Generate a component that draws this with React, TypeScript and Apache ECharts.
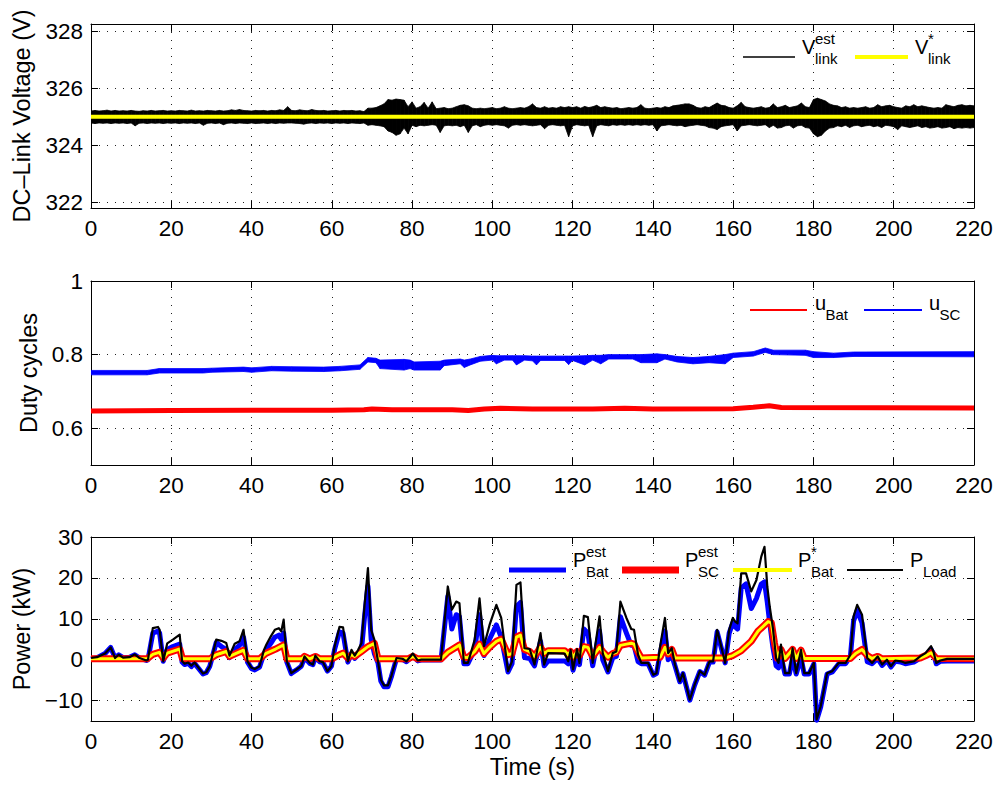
import React, { useEffect, useRef } from "react";
import * as echarts from "echarts";

const FONT = "'Liberation Sans', Arial, Helvetica, sans-serif";

// ---------- DC-link voltage (V) ----------
const vTicks = [322, 324, 326, 328];
const vRefValue = 325;
const vTime: number[] = [];
for (let s = 0; s <= 220; s++) vTime.push(s);
const vEstUpper = [
  325.20, 325.22, 325.20, 325.21, 325.23, 325.20, 325.22, 325.20, 325.21, 325.20,
  325.22, 325.20, 325.19, 325.21, 325.20, 325.22, 325.20, 325.21, 325.22, 325.20,
  325.21, 325.20, 325.22, 325.21, 325.20, 325.23, 325.20, 325.21, 325.20, 325.22,
  325.21, 325.20, 325.22, 325.20, 325.21, 325.24, 325.22, 325.25, 325.22, 325.21,
  325.20, 325.22, 325.21, 325.22, 325.20, 325.22, 325.21, 325.24, 325.22, 325.35,
  325.22, 325.21, 325.24, 325.22, 325.21, 325.25, 325.22, 325.21, 325.22, 325.20,
  325.21, 325.22, 325.20, 325.22, 325.21, 325.22, 325.20, 325.21, 325.18, 325.30,
  325.30, 325.32, 325.38, 325.45, 325.60, 325.58, 325.62, 325.60, 325.58, 325.35,
  325.52, 325.30, 325.35, 325.50, 325.30, 325.52, 325.28, 325.30, 325.32, 325.28,
  325.30, 325.35, 325.40, 325.42, 325.38, 325.30, 325.28, 325.30, 325.28, 325.30,
  325.32, 325.28, 325.30, 325.35, 325.30, 325.28, 325.30, 325.32, 325.30, 325.35,
  325.45, 325.32, 325.30, 325.35, 325.30, 325.32, 325.30, 325.35, 325.32, 325.35,
  325.32, 325.35, 325.30, 325.36, 325.32, 325.35, 325.40, 325.32, 325.35, 325.32,
  325.30, 325.32, 325.28, 325.30, 325.32, 325.30, 325.32, 325.42, 325.30, 325.28,
  325.30, 325.32, 325.30, 325.35, 325.32, 325.38, 325.40, 325.42, 325.45, 325.45,
  325.40, 325.32, 325.30, 325.35, 325.32, 325.40, 325.48, 325.40, 325.38, 325.32,
  325.30, 325.38, 325.50, 325.35, 325.32, 325.30, 325.32, 325.35, 325.30, 325.32,
  325.45, 325.32, 325.35, 325.40, 325.32, 325.35, 325.38, 325.48, 325.35, 325.32,
  325.60, 325.65, 325.60, 325.55, 325.45, 325.40, 325.38, 325.32, 325.35, 325.30,
  325.32, 325.30, 325.32, 325.35, 325.30, 325.32, 325.42, 325.35, 325.38, 325.40,
  325.35, 325.32, 325.30, 325.38, 325.35, 325.42, 325.35, 325.38, 325.35, 325.32,
  325.30, 325.32, 325.30, 325.42, 325.38, 325.35, 325.40, 325.42, 325.38, 325.40,
  325.38,
];
const vEstLower = [
  324.78, 324.76, 324.78, 324.77, 324.78, 324.76, 324.78, 324.77, 324.78, 324.76,
  324.78, 324.68, 324.77, 324.78, 324.76, 324.78, 324.77, 324.78, 324.76, 324.78,
  324.77, 324.78, 324.76, 324.78, 324.77, 324.78, 324.76, 324.78, 324.70, 324.77,
  324.78, 324.76, 324.78, 324.72, 324.77, 324.78, 324.76, 324.78, 324.77, 324.76,
  324.78, 324.76, 324.77, 324.78, 324.76, 324.78, 324.76, 324.78, 324.77, 324.78,
  324.78, 324.77, 324.76, 324.74, 324.77, 324.78, 324.76, 324.78, 324.77, 324.78,
  324.76, 324.78, 324.77, 324.78, 324.76, 324.78, 324.77, 324.76, 324.78, 324.70,
  324.72, 324.70, 324.68, 324.65, 324.50, 324.45, 324.35, 324.40, 324.60, 324.40,
  324.70, 324.65, 324.70, 324.68, 324.70, 324.72, 324.70, 324.45, 324.68, 324.70,
  324.68, 324.70, 324.65, 324.70, 324.45, 324.68, 324.72, 324.65, 324.70, 324.72,
  324.70, 324.72, 324.70, 324.68, 324.60, 324.70, 324.72, 324.70, 324.72, 324.70,
  324.68, 324.70, 324.72, 324.58, 324.70, 324.72, 324.70, 324.68, 324.70, 324.30,
  324.68, 324.72, 324.70, 324.68, 324.70, 324.30, 324.68, 324.72, 324.70, 324.68,
  324.72, 324.70, 324.72, 324.70, 324.72, 324.70, 324.72, 324.70, 324.72, 324.70,
  324.72, 324.50, 324.68, 324.70, 324.72, 324.70, 324.68, 324.70, 324.65, 324.68,
  324.70, 324.72, 324.70, 324.68, 324.62, 324.60, 324.55, 324.65, 324.68, 324.70,
  324.72, 324.50, 324.68, 324.70, 324.72, 324.70, 324.68, 324.70, 324.72, 324.62,
  324.70, 324.60, 324.62, 324.68, 324.70, 324.60, 324.68, 324.70, 324.62, 324.60,
  324.40, 324.30, 324.35, 324.50, 324.60, 324.62, 324.68, 324.65, 324.70, 324.62,
  324.68, 324.70, 324.65, 324.68, 324.70, 324.65, 324.68, 324.62, 324.70, 324.68,
  324.65, 324.55, 324.68, 324.65, 324.62, 324.65, 324.68, 324.62, 324.65, 324.60,
  324.62, 324.65, 324.60, 324.62, 324.65, 324.58, 324.62, 324.60, 324.62, 324.60,
  324.62,
];

// ---------- duty cycles ----------
const dutyTicks = [0.6, 0.8, 1];
const uBatTime = [0, 20, 40, 60, 68, 70, 75, 90, 94, 98, 102, 110, 125, 133, 140, 160, 165, 169, 172, 220];
const uBat = [0.647, 0.648, 0.649, 0.649, 0.65, 0.652, 0.65, 0.65, 0.648, 0.652, 0.654, 0.652, 0.652, 0.654, 0.652, 0.653, 0.657, 0.661, 0.656, 0.655];
const uScTime = [
  0, 14, 17, 28, 30, 38, 40, 45, 50, 58, 62, 67, 69, 71, 72, 78, 79.5, 80.5, 87, 88,
  92, 93, 94.5, 97, 100, 101, 103, 105, 106, 108, 110, 111, 112, 118, 119, 120, 123, 125, 127, 129,
  135, 137, 141, 143, 146, 150, 154, 158, 160, 165, 168, 170, 178, 180, 185, 190, 220,
];
const uScLower = [
  0.745, 0.745, 0.75, 0.75, 0.752, 0.754, 0.752, 0.756, 0.755, 0.754, 0.756, 0.76, 0.78, 0.778, 0.762, 0.758, 0.762, 0.758, 0.758, 0.77,
  0.775, 0.765, 0.772, 0.782, 0.785, 0.775, 0.785, 0.785, 0.772, 0.785, 0.783, 0.772, 0.784, 0.784, 0.773, 0.784, 0.772, 0.785, 0.775, 0.788,
  0.788, 0.778, 0.778, 0.788, 0.78, 0.775, 0.778, 0.775, 0.792, 0.796, 0.806, 0.8, 0.798, 0.792, 0.792, 0.795, 0.794,
];
const uScUpper = [
  0.757, 0.757, 0.762, 0.762, 0.763, 0.766, 0.764, 0.768, 0.767, 0.766, 0.768, 0.772, 0.792, 0.79, 0.785, 0.787, 0.785, 0.78, 0.782, 0.785,
  0.788, 0.785, 0.788, 0.795, 0.798, 0.797, 0.797, 0.797, 0.797, 0.797, 0.796, 0.796, 0.796, 0.796, 0.796, 0.796, 0.797, 0.798, 0.798, 0.8,
  0.8, 0.8, 0.802, 0.8, 0.795, 0.792, 0.795, 0.8, 0.804, 0.808, 0.818, 0.812, 0.812, 0.808, 0.804, 0.807, 0.808,
];

// ---------- power (kW) ----------
const powerTicks = [-10, 0, 10, 20, 30];
const loadTime = [
  0, 1.5, 3.5, 4.9, 6.0, 6.9, 8.0, 9.6, 10.9, 12.1,
  13.8, 14.2, 15.4, 16.7, 17.1, 18.0, 19.0, 20.4, 22.1, 22.7,
  23.3, 24.2, 25.0, 25.8, 27.9, 28.7, 29.6, 31.2, 32.5, 33.7,
  34.5, 35.8, 37.0, 38.0, 39.0, 40.0, 40.8, 42.0, 43.1, 43.7,
  44.8, 45.8, 46.8, 47.4, 48.0, 48.8, 49.9, 51.2, 52.4, 53.2,
  54.5, 55.3, 55.9, 57.0, 57.8, 58.9, 59.9, 60.7, 61.9, 62.8,
  64.0, 64.9, 65.7, 66.5, 67.4, 68.2, 69.0, 69.8, 70.6, 71.5,
  72.2, 73.0, 74.0, 74.8, 76.1, 77.7, 78.6, 80.2, 81.4, 82.3,
  87.2, 88.9, 89.9, 91.0, 91.8, 92.9, 93.9, 95.6, 96.8, 97.9,
  99.3, 101.0, 102.2, 103.9, 104.9, 106.0, 107.0, 108.0, 109.3, 110.5,
  112.0, 112.9, 113.9, 118.0, 118.9, 119.5, 120.1, 121.1, 121.7, 122.8,
  123.8, 125.0, 126.7, 127.5, 128.8, 130.0, 130.9, 131.9, 133.4, 134.6,
  135.3, 136.3, 137.1, 138.8, 140.1, 140.9, 141.8, 143.0, 143.8, 144.7,
  145.5, 146.7, 147.5, 149.2, 150.4, 151.7, 152.9, 154.1, 155.0, 156.0,
  157.0, 158.0, 159.0, 159.9, 160.5, 161.1, 162.0, 163.2, 164.5, 165.8,
  167.0, 167.8, 168.5, 169.1, 169.9, 170.7, 171.3, 171.9, 172.9, 174.0,
  174.8, 175.7, 176.9, 177.7, 178.9, 180.1, 180.8, 181.8, 183.4, 184.7,
  186.3, 188.0, 189.2, 190.0, 190.9, 192.1, 193.4, 194.6, 196.0, 197.1,
  198.3, 199.3, 200.4, 201.8, 202.9, 205.0, 206.6, 207.9, 209.3, 209.9,
  210.6, 211.6, 213.3, 220,
];
const pLoad = [
  0.4, 0.6, 1.5, 3.0, 0.4, 1.2, 0.5, 0.6, 1.3, 0.4,
  -0.2, 0, 7.7, 8.0, 7.3, -0.4, 4.0, 4.9, 6.1, -0.4,
  -1.0, -0.7, -1.5, -0.7, -3.4, -3.1, -1.6, 4.9, 4.6, 4.1,
  1.0, 3.9, 4.5, 7.3, -0.4, -2.0, -2.3, -1.6, 2.4, 3.7,
  5.7, 7.3, 7.7, 6.9, 9.8, -0.4, -3.3, -2.4, -1.6, 0.8,
  -0.8, -1.2, 1.0, -0.4, -0.6, -2.8, -1.6, 3.2, 8.0, 7.9,
  -0.4, 2.4, 1.0, 2.3, 4.1, 13.8, 22.4, 7.3, 4.9, -0.4,
  -4.9, -6.3, -6.3, -4.1, 0.4, 0.2, -0.4, 1.5, -0.2, 0,
  0, 17.9, 12.2, 14.2, 13.8, -0.8, -0.8, 4.9, 15.0, 3.3,
  8.5, 13.4, 10.2, -2.8, -0.4, 18.3, 18.9, 2.8, 2.6, -1.2,
  6.5, -1.2, 1.6, 1.5, -0.4, 2.4, -2.4, 2.6, -0.8, 10.7,
  10.4, -0.8, 10.6, 1.6, -2.8, 1.6, 2.0, 14.2, 10.2, 7.5,
  7.3, 1.2, -0.8, -0.8, -3.7, -3.3, 3.3, 10.2, 1.6, 2.8,
  -1.2, -5.3, -3.3, -9.8, -6.1, -2.8, -3.7, -0.4, -0.4, 7.3,
  3.3, -0.8, 7.3, 10.2, 9.3, 8.9, 21.1, 21.1, 16.7, 19.5,
  25.2, 27.6, 17.9, 13.0, 7.7, 0.4, -0.8, 3.7, -3.3, -3.3,
  2.8, -3.3, 2.4, -3.3, -3.3, -0.8, -14.6, -11.4, -3.3, -2.8,
  -0.8, -0.8, 1.2, 10.6, 13.4, 11.0, 0.4, -0.8, 0.8, -1.2,
  0.0, -1.6, -0.2, -0.4, -0.8, -0.4, 0.8, 1.6, 3.3, 2.0,
  -0.8, -0.2, 0.2, 0.2,
];
const pBatEst = [
  0.2, 0.5, 1.5, 3.0, 0.4, 1.2, 0.5, 0.6, 1.2, 0.4,
  -0.2, 0, 6.5, 7.0, 6.5, -0.4, 2.5, 3.2, 3.8, -0.6,
  -1.2, -0.9, -1.7, -0.9, -3.5, -3.2, -1.6, 4.2, 3.2, 2.5,
  0.5, 2.5, 3.5, 5.5, -0.6, -2.2, -2.5, -1.8, 1.5, 2.5,
  4.0, 5.5, 6.0, 5.0, 6.5, -0.6, -3.4, -2.5, -1.6, 0.5,
  -0.9, -1.2, 0.6, -0.5, -0.7, -2.8, -1.6, 2.5, 6.8, 6.5,
  -0.6, 1.5, 0.3, 1.2, 2.5, 11.0, 18.0, 5.0, 1.5, -0.8,
  -5.2, -6.6, -6.6, -4.3, 0.2, 0.0, -0.5, 1.0, -0.3, -0.1,
  -0.1, 15.5, 7.5, 11.0, 10.5, -1.0, -1.0, 2.5, 11.0, 1.0,
  5.0, 8.5, 5.5, -3.0, -1.0, 13.0, 14.0, 0.5, 0.3, -1.5,
  4.5, -1.5, -0.3, -0.3, -1.0, 0.5, -2.6, 0.8, -1.2, 7.5,
  6.5, -1.5, 7.0, 0, -3.0, 0.5, 0.8, 10.5, 6.5, 3.5,
  3.5, -0.5, -1.0, -1.0, -3.8, -3.4, 1.5, 7.0, 0, 1.0,
  -1.5, -5.4, -3.4, -9.9, -6.2, -2.9, -3.8, -0.6, -0.6, 6.8,
  3.0, -0.8, 6.5, 9.0, 8.0, 7.5, 17.5, 18.5, 12.5, 15.0,
  18.5, 19.0, 14.0, 9.0, 3.0, -1.5, -2.0, 1.0, -3.5, -3.5,
  0.5, -3.5, 0.5, -3.5, -3.5, -1.0, -14.8, -11.6, -3.5, -3.0,
  -1.0, -1.0, 0.8, 9.5, 12.0, 9.0, -0.5, -1.0, 0.3, -1.4,
  -0.2, -1.8, -0.4, -0.6, -1.0, -0.6, 0.4, 1.0, 2.5, 1.5,
  -1.0, -0.4, -0.3, -0.3,
];
const smoothTime = [
  0, 14, 15.4, 17, 18, 19, 22.1, 22.8, 29.6, 31.2,
  33.7, 34.5, 37, 38, 39, 42, 43.5, 46, 48, 48.8,
  52.5, 53.2, 54.5, 55.9, 57, 60, 61.9, 62.8, 64, 64.9,
  65.7, 67.4, 69, 70.6, 71.5, 79, 80.2, 81.4, 87.2, 88.9,
  91.8, 92.9, 93.9, 95.6, 96.8, 97.9, 99.3, 101, 102.2, 103.9,
  104.9, 106, 107, 108, 109.3, 110.5, 112, 112.9, 113.9, 118,
  118.9, 119.5, 120.1, 121.1, 121.7, 122.8, 123.8, 125, 126.7, 127.5,
  128.8, 130, 130.9, 131.9, 133.4, 134.6, 135.3, 136.3, 137.1, 141.8,
  143, 143.8, 144.7, 145.5, 158, 159.9, 162, 164.5, 166.2, 168.7,
  169.5, 170.3, 171, 171.9, 172.9, 174.8, 175.7, 176.9, 177.7, 189.2,
  190.5, 192.1, 193.4, 194.6, 196, 197.1, 206.6, 208, 209.3, 210.6,
  220,
];
const pScEst = [
  0.2, 0.2, 1.3, 1.8, 0.4, 1.6, 2.6, 0.2, 0.2, 1.2,
  2.0, 0.8, 1.9, 2.3, 0.2, 0.2, 1.5, 2.6, 3.6, 0.2,
  0.2, 0.8, 0.2, 0.8, 0.2, 0.2, 1.2, 1.6, 0.4, 1.2,
  0.8, 2.0, 3.2, 4.0, 0.2, 0.2, 0.8, 0.2, 0.2, 1.8,
  3.6, 0.6, 0.5, 2.0, 3.8, 1.5, 3.0, 4.5, 5.0, 1.2,
  1.5, 5.5, 6.0, 2.5, 2.0, 0.8, 3.0, 1.5, 2.2, 2.2,
  1.2, 2.0, 0.6, 2.0, 1.0, 3.2, 3.0, 0.8, 3.0, 2.0,
  0.6, 1.5, 1.8, 3.5, 3.8, 4.0, 3.8, 1.8, 0.4, 0.6,
  3.0, 1.4, 2.5, 0.4, 0.4, 1.0, 2.2, 4.5, 7.0, 9.3,
  9.0, 4.0, 0.4, 2.5, 0.3, 2.5, 0.3, 2.3, 0.3, 0.3,
  1.5, 2.5, 1.0, 0.3, 0.8, 0.2, 0.4, 1.0, 1.7, 0.3,
  0.2,
];
const pBatRef = pScEst.slice();

const pairs = (xs: number[], ys: number[]) => xs.map((x, i) => [x, ys[i]]);

// band drawn as quads between consecutive samples, through the axis scales
function bandSeries(xIdx: number, yIdx: number, ts: number[], lo: number[], hi: number[], color: string, z: number) {
  return {
    type: "custom",
    xAxisIndex: xIdx,
    yAxisIndex: yIdx,
    silent: true,
    clip: true,
    z,
    encode: { x: 0, y: [1, 2] },
    data: ts.map((t, i) => [t, lo[i], hi[i]]),
    renderItem: (params: any, api: any) => {
      const i = params.dataIndexInside;
      if (i >= params.dataInsideLength - 1) return null;
      const t0 = api.value(0, i), l0 = api.value(1, i), h0 = api.value(2, i);
      const t1 = api.value(0, i + 1), l1 = api.value(1, i + 1), h1 = api.value(2, i + 1);
      const pts = [api.coord([t0, h0]), api.coord([t1, h1]), api.coord([t1, l1]), api.coord([t0, l0])];
      return {
        type: "polygon",
        shape: { points: pts },
        style: { fill: color, stroke: color, lineWidth: 0.8 },
      };
    },
  };
}

function xAxisFor(gridIndex: number, mirror: boolean, extra: any = {}) {
  return {
    type: "value",
    gridIndex,
    min: 0,
    max: 220,
    interval: 20,
    position: mirror ? "top" : "bottom",
    axisLine: { show: true, onZero: false, lineStyle: { color: "#000", width: 1 } },
    axisTick: { show: true, inside: true, length: 7, lineStyle: { color: "#000", width: 1 } },
    axisLabel: { show: !mirror, color: "#000", fontSize: 22.5, fontFamily: FONT, margin: 9 },
    splitLine: { show: !mirror, lineStyle: { color: "#222", width: 1, type: [1, 7] } },
    ...extra,
  };
}

function yAxisFor(gridIndex: number, mirror: boolean, min: number, max: number, ticks: number[], extra: any = {}) {
  return {
    type: "value",
    gridIndex,
    min,
    max,
    position: mirror ? "right" : "left",
    axisLine: { show: true, onZero: false, lineStyle: { color: "#000", width: 1 } },
    axisTick: { show: true, inside: true, length: 7, customValues: ticks, lineStyle: { color: "#000", width: 1 } },
    axisLabel: {
      show: !mirror,
      customValues: ticks,
      color: "#000",
      fontSize: 22.5,
      fontFamily: FONT,
      margin: 8,
      formatter: (v: number) => String(v).replace("-", "\u2212"),
    },
    splitLine: { show: !mirror, lineStyle: { color: "#222", width: 1, type: [1, 7] } },
    ...extra,
  };
}

type LegendItem = {
  x1: number; x2: number; y: number; color: string; width: number;
  mainX: number; main: string; baseY: number; sup?: string; sub?: string;
};

function legendGraphics(items: LegendItem[]) {
  const els: any[] = [];
  items.forEach((it) => {
    els.push({
      type: "line",
      shape: { x1: it.x1, y1: it.y, x2: it.x2, y2: it.y },
      style: { stroke: it.color, lineWidth: it.width },
      z: 100,
    });
    const mainW = it.main === "u" ? 10.5 : 13;
    els.push({
      type: "text",
      x: it.mainX,
      y: it.baseY - 7,
      style: { text: it.main, font: `20px ${FONT}`, fill: "#000", align: "left", verticalAlign: "middle" },
      z: 100,
    });
    if (it.sup) {
      els.push({
        type: "text",
        x: it.mainX + mainW,
        y: it.baseY - 10 - 5.2,
        style: { text: it.sup, font: `15px ${FONT}`, fill: "#000", align: "left", verticalAlign: "middle" },
        z: 100,
      });
    }
    if (it.sub) {
      els.push({
        type: "text",
        x: it.mainX + mainW,
        y: it.baseY + 10 - 5.2,
        style: { text: it.sub, font: `15px ${FONT}`, fill: "#000", align: "left", verticalAlign: "middle" },
        z: 100,
      });
    }
  });
  return els;
}

export default function App() {
  const ref = useRef<HTMLDivElement>(null);

  useEffect(() => {
    if (!ref.current) return;
    const chart = echarts.init(ref.current, undefined, { renderer: "svg" });

    const nameStyle = { color: "#000", fontSize: 23.5, fontFamily: FONT };
    const option: any = {
      animation: false,
      backgroundColor: "#fff",
      textStyle: { fontFamily: FONT },
      grid: [
        { left: 91, right: 23, top: 24, height: 184 },
        { left: 91, right: 23, top: 281, height: 184 },
        { left: 91, right: 23, top: 537, height: 184 },
      ],
      xAxis: [
        xAxisFor(0, false),
        xAxisFor(1, false),
        xAxisFor(2, false, {
          name: "Time (s)",
          nameLocation: "middle",
          nameGap: 34,
          nameTextStyle: nameStyle,
        }),
        xAxisFor(0, true),
        xAxisFor(1, true),
        xAxisFor(2, true),
      ],
      yAxis: [
        yAxisFor(0, false, 321.8, 328.25, vTicks, {
          name: "DC\u2013Link Voltage (V)",
          nameLocation: "middle",
          nameGap: 57,
          nameTextStyle: nameStyle,
        }),
        yAxisFor(1, false, 0.5, 1, dutyTicks, {
          name: "Duty cycles",
          nameLocation: "middle",
          nameGap: 50,
          nameTextStyle: nameStyle,
        }),
        yAxisFor(2, false, -15, 30, powerTicks, {
          name: "Power (kW)",
          nameLocation: "middle",
          nameGap: 57,
          nameTextStyle: nameStyle,
        }),
        yAxisFor(0, true, 321.8, 328.25, vTicks),
        yAxisFor(1, true, 0.5, 1, dutyTicks),
        yAxisFor(2, true, -15, 30, powerTicks),
      ],
      series: [
        bandSeries(0, 0, vTime, vEstLower, vEstUpper, "#000", 2),
        {
          type: "line", xAxisIndex: 0, yAxisIndex: 0, symbol: "none", z: 3,
          data: [[0, vRefValue], [220, vRefValue]],
          lineStyle: { color: "#ffff00", width: 4 }, silent: true,
        },
        {
          type: "line", xAxisIndex: 1, yAxisIndex: 1, symbol: "none", z: 2,
          data: pairs(uBatTime, uBat), lineStyle: { color: "#ff0000", width: 5 }, silent: true,
        },
        bandSeries(1, 1, uScTime, uScLower, uScUpper, "#0000ff", 3),
        {
          type: "line", xAxisIndex: 2, yAxisIndex: 2, symbol: "none", z: 2,
          data: pairs(loadTime, pBatEst), lineStyle: { color: "#0000ff", width: 5, join: "round" }, silent: true,
        },
        {
          type: "line", xAxisIndex: 2, yAxisIndex: 2, symbol: "none", z: 3,
          data: pairs(smoothTime, pScEst), lineStyle: { color: "#ff0000", width: 7, join: "round" }, silent: true,
        },
        {
          type: "line", xAxisIndex: 2, yAxisIndex: 2, symbol: "none", z: 4,
          data: pairs(smoothTime, pBatRef), lineStyle: { color: "#ffff00", width: 3, join: "round" }, silent: true,
        },
        {
          type: "line", xAxisIndex: 2, yAxisIndex: 2, symbol: "none", z: 5,
          data: pairs(loadTime, pLoad), lineStyle: { color: "#000", width: 2.2, join: "round" }, silent: true,
        },
      ],
      graphic: legendGraphics([
        { x1: 743, x2: 795, y: 57, color: "#000", width: 1.5, mainX: 802, main: "V", baseY: 53.5, sup: "est", sub: "link" },
        { x1: 855, x2: 908, y: 57, color: "#ffff00", width: 4, mainX: 915, main: "V", baseY: 53.5, sup: "*", sub: "link" },
        { x1: 750, x2: 807, y: 310, color: "#ff0000", width: 2, mainX: 815, main: "u", baseY: 310, sub: "Bat" },
        { x1: 864, x2: 922, y: 310, color: "#0000ff", width: 2, mainX: 929, main: "u", baseY: 310, sub: "SC" },
        { x1: 509, x2: 566, y: 570, color: "#0000ff", width: 5, mainX: 573, main: "P", baseY: 567, sup: "est", sub: "Bat" },
        { x1: 622, x2: 679, y: 570, color: "#ff0000", width: 7, mainX: 685, main: "P", baseY: 567, sup: "est", sub: "SC" },
        { x1: 733, x2: 792, y: 570, color: "#ffff00", width: 4, mainX: 798, main: "P", baseY: 567, sup: "*", sub: "Bat" },
        { x1: 847, x2: 903, y: 570, color: "#000", width: 2, mainX: 910, main: "P", baseY: 567, sub: "Load" },
      ]),
    };

    chart.setOption(option);
    return () => chart.dispose();
  }, []);

  return (
    <div
      ref={ref}
      style={{ position: "fixed", left: 0, top: 0, width: 997, height: 785, background: "#fff" }}
    />
  );
}
